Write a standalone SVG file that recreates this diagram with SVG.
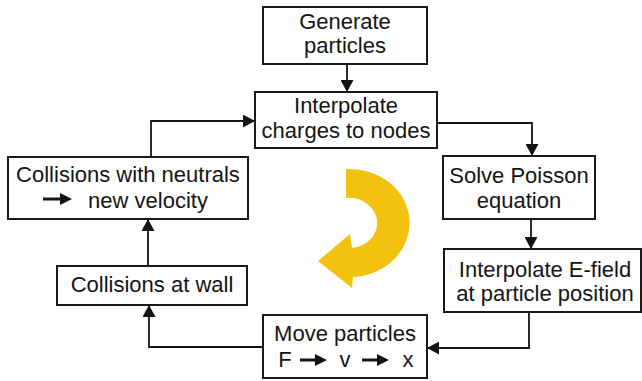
<svg xmlns="http://www.w3.org/2000/svg" width="642" height="381" viewBox="0 0 642 381">
<defs>
<style>
.box{fill:#fff;stroke:#1a1a1a;stroke-width:2}
.t{font-family:"Liberation Sans",Arial,sans-serif;font-size:22px;fill:#141414;text-anchor:middle}
.c{fill:none;stroke:#141414;stroke-width:1.8}
.sym{fill:#141414}
</style>
<marker id="ah" markerUnits="userSpaceOnUse" markerWidth="12" markerHeight="13" refX="12" refY="6.5" orient="auto">
<path d="M0,0 L12,6.5 L0,13 z" fill="#141414"/>
</marker>
</defs>
<rect width="642" height="381" fill="#fff"/>
<g id="connectors">
<path class="c" d="M347 64 V92" marker-end="url(#ah)"/>
<path class="c" d="M151 157 V121 H255" marker-end="url(#ah)"/>
<path class="c" d="M437 123 H532 V156" marker-end="url(#ah)"/>
<path class="c" d="M531 219 V249" marker-end="url(#ah)"/>
<path class="c" d="M529 312 V348 H427" marker-end="url(#ah)"/>
<path class="c" d="M263 347 H149 V305" marker-end="url(#ah)"/>
<path class="c" d="M148 266 V219" marker-end="url(#ah)"/>
</g>
<g id="cycle-arrow">
<path d="M346 169 A60 54 0 1 1 353 277 L352 288 L318 261 L350 234 L352 248 A28 25 0 1 0 346 198 Z" fill="#F3C20F"/>
</g>
<g id="generate">
<rect class="box" x="263" y="7" width="164" height="57"/>
<text class="t" x="345" y="29">Generate</text>
<text class="t" x="345" y="53">particles</text>
</g>
<g id="interpolate-charges">
<rect class="box" x="255" y="92" width="182" height="56"/>
<text class="t" x="346" y="113">Interpolate</text>
<text class="t" x="346" y="138">charges to nodes</text>
</g>
<g id="solve-poisson">
<rect class="box" x="443" y="156" width="152" height="63"/>
<text class="t" x="519" y="183">Solve Poisson</text>
<text class="t" x="519" y="208">equation</text>
</g>
<g id="interpolate-efield">
<rect class="box" x="444" y="249" width="197" height="63"/>
<text class="t" x="545" y="277">Interpolate E-field</text>
<text class="t" x="545" y="301">at particle position</text>
</g>
<g id="move-particles">
<rect class="box" x="263" y="315" width="164" height="63"/>
<text class="t" x="345" y="341">Move particles</text>
<text class="t" x="285" y="367">F</text>
<path class="sym" d="M300 358.5 H315 V354 L327 360 L315 366 V361.5 H300 Z"/>
<text class="t" x="345" y="367">v</text>
<path class="sym" d="M362 358.5 H377 V354 L389 360 L377 366 V361.5 H362 Z"/>
<text class="t" x="408" y="367">x</text>
</g>
<g id="collisions-wall">
<rect class="box" x="57" y="266" width="190" height="39"/>
<text class="t" x="152" y="292">Collisions at wall</text>
</g>
<g id="collisions-neutrals">
<rect class="box" x="8" y="157" width="240" height="62"/>
<text class="t" x="128" y="182">Collisions with neutrals</text>
<path class="sym" d="M43 197.5 H60 V193 L72 199 L60 205 V200.5 H43 Z"/>
<text class="t" x="148" y="208">new velocity</text>
</g>
</svg>
